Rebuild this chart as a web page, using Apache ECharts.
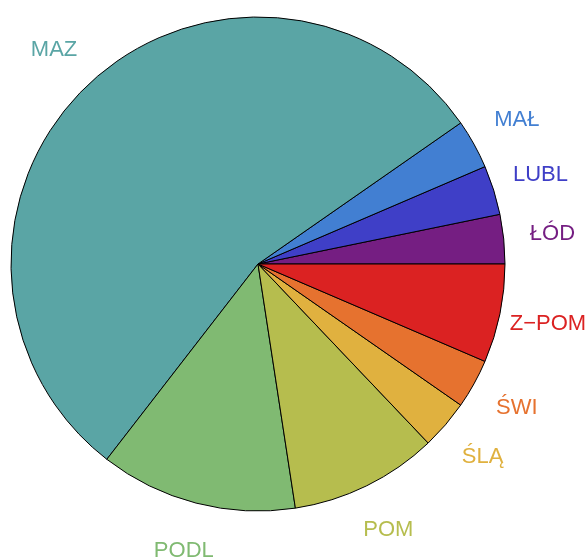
<!DOCTYPE html>
<html>
<head>
<meta charset="utf-8">
<script src="https://cdn.jsdelivr.net/npm/echarts@6/dist/echarts.min.js"></script>
<style>
  html, body { margin: 0; padding: 0; background: #fff; }
  #chart { width: 586px; height: 559px; }
</style>
</head>
<body>
<div id="chart"></div>
<script>
// województwa (kolejność alfabetyczna, rysowane przeciwnie do wskazówek zegara od godz. 3)
const regions = ['ŁÓD', 'LUBL', 'MAŁ', 'MAZ', 'PODL', 'POM', 'ŚLĄ', 'ŚWI', 'Z\u2212POM'];
const counts = [1, 1, 1, 17, 4, 3, 1, 1, 2];
const colors = ['#751e82', '#3f3fc7', '#427fd2', '#5aa5a5', '#80ba72', '#b6bd4e', '#e0b13f', '#e6722f', '#db2222'];

const chart = echarts.init(document.getElementById('chart'));

// plasterki
const sliceData = regions.map((name, i) => ({
    name: name,
    value: counts[i],
    itemStyle: { color: colors[i] }
}));

// niewidoczny pierścień tylko na etykiety
const labelData = regions.map((name, i) => ({
    name: name,
    value: counts[i],
    label: { color: colors[i] }
}));

const option = {
    animation: false,
    series: [
        {
            type: 'pie',
            center: [258, 264],
            radius: 247,
            startAngle: 0,
            clockwise: false,
            silent: true,
            label: { show: false },
            labelLine: { show: false },
            itemStyle: {
                borderColor: '#000',
                borderWidth: 1
            },
            data: sliceData
        },
        {
            type: 'pie',
            center: [258, 264],
            radius: [247, 339],
            startAngle: 0,
            clockwise: false,
            silent: true,
            itemStyle: { color: 'rgba(0,0,0,0)', borderWidth: 0 },
            labelLine: { show: false },
            label: {
                show: true,
                position: 'inside',
                formatter: '{b}',
                fontFamily: 'Liberation Sans, Arial, sans-serif',
                fontSize: 22
            },
            data: labelData
        }
    ]
};

chart.setOption(option);
</script>
</body>
</html>
